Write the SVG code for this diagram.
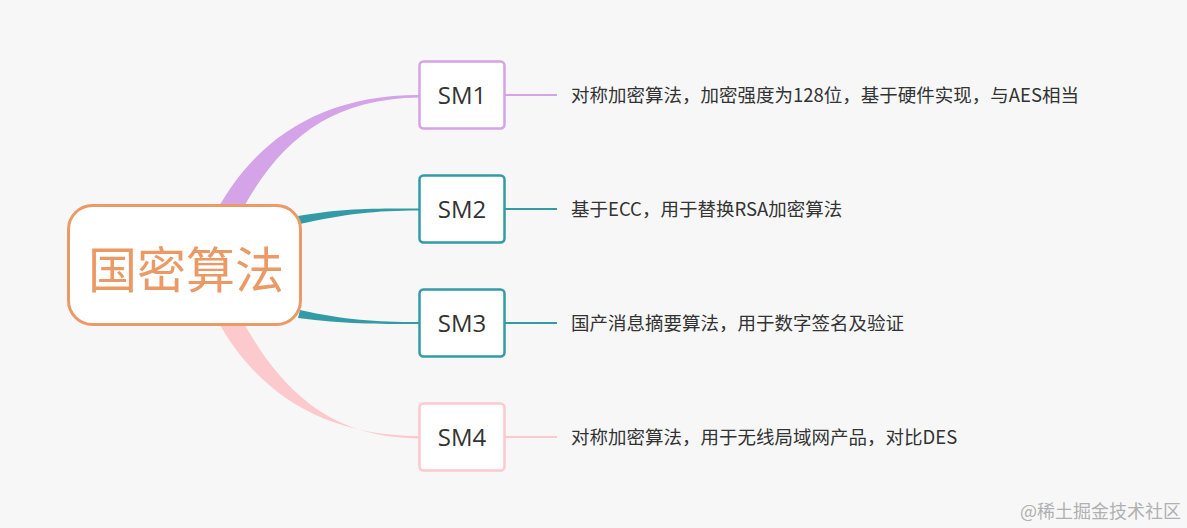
<svg xmlns="http://www.w3.org/2000/svg" width="1187" height="528" viewBox="0 0 1187 528">
<style>
.bg{fill:#f7f7f8}
.box{fill:#ffffff;stroke-width:2.5}
.lbl{font-family:"Open Sans","Noto Sans CJK SC",sans-serif;font-size:24px;fill:#333333;text-anchor:middle}
.desc{font-family:"Noto Sans CJK SC",sans-serif;font-size:18.5px;fill:#333333}
.root{font-family:"Noto Sans CJK SC",sans-serif;font-size:49px;fill:#eb9a66;text-anchor:middle}
.wm{font-family:"Noto Sans CJK SC",sans-serif;font-size:18px;fill:#b0b0b0}
</style>
<rect class="bg" x="0" y="0" width="1187" height="528"/>
<g id="connectors">
  <path d="M216,212 C255,140 320,95 419,95 L419,97.5 C330,99 280,140 241,212 Z" fill="#d4a3e8"/>
  <path d="M298,216 C345,208 375,208.5 419,208.5 L419,210.5 C375,210.5 345,214 300,224 Z" fill="#339ba5"/>
  <path d="M300,310 C345,320 375,322 419,322 L419,324 C375,324 345,324 298,318 Z" fill="#339ba5"/>
  <path d="M216,318 C255,390 320,436 419,436 L419,438.5 C330,438 280,390 241,318 Z" fill="#fcc9cc"/>
  <line x1="505" y1="95" x2="557" y2="95" stroke="#d4a3e8" stroke-width="2"/>
  <line x1="505" y1="209" x2="557" y2="209" stroke="#339ba5" stroke-width="2"/>
  <line x1="505" y1="323" x2="557" y2="323" stroke="#339ba5" stroke-width="2"/>
  <line x1="505" y1="437" x2="557" y2="437" stroke="#fcc9cc" stroke-width="2"/>
</g>
<g id="root">
  <rect x="68.5" y="205.5" width="232" height="119" rx="24" fill="#ffffff" stroke="#eb9a66" stroke-width="3"/>
  <text class="root" x="186" y="288">国密算法</text>
</g>
<g id="sm1">
  <rect class="box" x="419.5" y="61.5" width="85" height="67" rx="4" stroke="#d4a3e8"/>
  <text class="lbl" x="462" y="104">SM1</text>
  <text class="desc" x="571" y="102">对称加密算法，加密强度为128位，基于硬件实现，与AES相当</text>
</g>
<g id="sm2">
  <rect class="box" x="419.5" y="175.5" width="85" height="67" rx="4" stroke="#339ba5"/>
  <text class="lbl" x="462" y="218">SM2</text>
  <text class="desc" x="571" y="216">基于ECC，用于替换RSA加密算法</text>
</g>
<g id="sm3">
  <rect class="box" x="419.5" y="289.5" width="85" height="67" rx="4" stroke="#339ba5"/>
  <text class="lbl" x="462" y="332">SM3</text>
  <text class="desc" x="571" y="330">国产消息摘要算法，用于数字签名及验证</text>
</g>
<g id="sm4">
  <rect class="box" x="419.5" y="403.5" width="85" height="67" rx="4" stroke="#fcc9cc"/>
  <text class="lbl" x="462" y="446">SM4</text>
  <text class="desc" x="571" y="444">对称加密算法，用于无线局域网产品，对比DES</text>
</g>
<text class="wm" x="1020" y="518">@稀土掘金技术社区</text>
</svg>
